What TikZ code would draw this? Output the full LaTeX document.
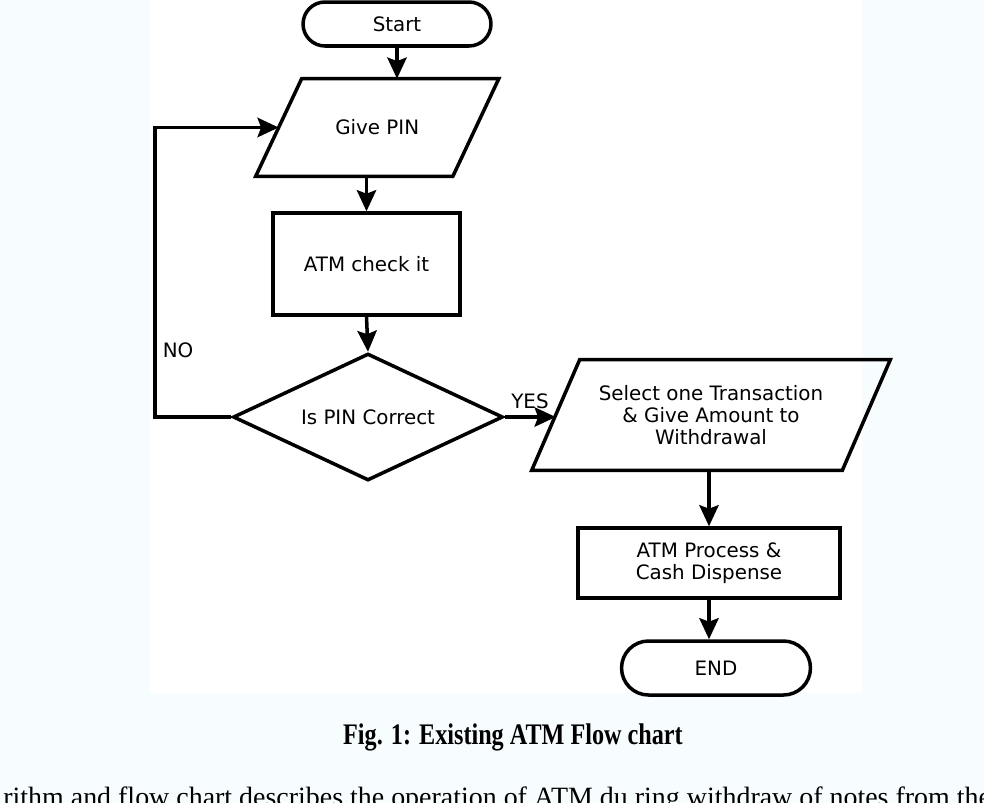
\documentclass[tikz,border=0pt]{standalone}
\usepackage{fontspec}
\setmainfont{Liberation Serif}
\newfontfamily\chartfont{DejaVu Sans}
\newfontfamily\capfont[FakeStretch=0.81]{Liberation Serif}
\usetikzlibrary{shapes.geometric,shapes.misc,arrows.meta}
\newcommand{\ioshape}[2]{%
  \draw[line width=2pt,line join=miter]
    ([xshift=-#2]#1.south west) -- ([xshift=#2]#1.north west)
    -- ([xshift=#2]#1.north east) -- ([xshift=-#2]#1.south east) -- cycle;}

\begin{document}
\begin{tikzpicture}[x=0.02cm,y=-0.02cm,
    every node/.style={font=\chartfont\fontsize{11.3}{12.5}\selectfont},
    box/.style={draw,line width=2pt,align=center,inner sep=2pt},
    term/.style={box,rounded rectangle},
    io/.style={align=center,inner sep=2pt},
    decision/.style={box,diamond,aspect=2.16},
    flow/.style={line width=2pt,-{Stealth[length=12pt,width=11pt,inset=2pt]}}]
  \clip (0,0) rectangle (984,802);
  \useasboundingbox (0,0) rectangle (984,802);
  \fill[cyan!3] (0,0) rectangle (984,802);
  \fill[white] (150,0) rectangle (862,693);
  \draw
    (397,24) node[term,minimum width=3.9cm,minimum height=0.88cm] (start){Start}
    (377.25,127.5) node[io,minimum width=3.93cm,minimum height=1.94cm] (pin){Give PIN}
    (366.5,264) node[box,minimum width=3.74cm,minimum height=2.04cm] (check){ATM check it}
    (368,417) node[decision,minimum width=5.4cm,minimum height=2.54cm] (decide){Is PIN Correct}
    (711,415) node[io,minimum width=6.2cm,minimum height=2.2cm] (select){Select one Transaction\\ \& Give Amount to\\ Withdrawal}
    (709,563) node[box,minimum width=5.24cm,minimum height=1.4cm] (process){ATM Process \&\\ Cash Dispense}
    (716,668) node[term,minimum width=3.92cm,minimum height=1.08cm] (stop){END};
  \ioshape{pin}{0.46cm}
  \ioshape{select}{0.48cm}
  \coordinate (noturn) at (155,417);
  \begin{scope}[flow]
    \draw (start.south) -- (start.south |- pin.north);
    \draw (check.north |- pin.south) -- (check.north);
    \draw (check.south) -- (decide.north);
    \draw (decide.west) -- (noturn) |- (pin.west);
    \draw (decide.east) -- (decide.east -| select.west);
    \draw (process.north |- select.south) -- (process.north);
    \draw (process.south) -- (process.south |- stop.north);
  \end{scope}
  \node (no) at (178,350) {NO};
  \node (yes) at (530,401) {YES};
  \node[font=\capfont\bfseries\fontsize{17}{20}\selectfont] (caption) at (513,737) {Fig. 1: Existing ATM Flow chart};
  \node[anchor=base west,inner sep=0,font=\rmfamily\fontsize{15.9}{18}\selectfont] (para) at (3,806)
    {rithm and flow chart describes the operation of ATM du ring withdraw of notes from the};
\end{tikzpicture}
\end{document}
